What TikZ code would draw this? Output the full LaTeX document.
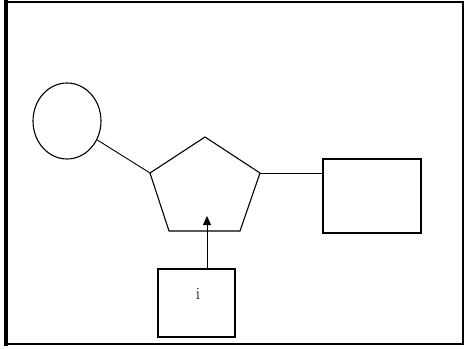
\documentclass[tikz,border=0pt]{standalone}
\usepackage{tikz}
\usetikzlibrary{arrows.meta,positioning,calc,shapes.geometric}

\begin{document}
\begin{tikzpicture}[x=1pt,y=-1pt,line width=1pt,
  blk/.style={draw,line width=1.1pt,inner sep=0pt},
  lnk/.style={draw,line width=0.9pt}]
\useasboundingbox (0,0) rectangle (465,348);
% outer frame
\draw[line width=2pt] (6,1.5) rectangle (463,344);
\draw[line width=4pt] (6,0) -- (6,346);
\node[blk,ellipse,minimum width=68,minimum height=76] (src) at (67,121) {};
% pentagon
\coordinate (pt) at (205,137);
\coordinate (pl) at (150,173);
\coordinate (pbl) at (169,231);
\coordinate (pbr) at (240,231);
\coordinate (pr) at (260,173);
\draw[line width=1.1pt] (pt) -- (pl) -- (pbl) -- (pbr) -- (pr) -- cycle;
\coordinate (tip) at (207,216);
\node[blk,minimum width=98,minimum height=74] (out) at (372,196) {};
\node[blk,minimum width=77,minimum height=68] (in) at (196.5,303) {};
\node at (198,294) {\LARGE i};
\draw[lnk] (src) -- (pl);
\draw[lnk] (pr) -- (pr -| out.west);
\draw[lnk,-{Triangle[length=9pt,width=8pt]}] (tip |- in.north) -- (tip);
\end{tikzpicture}
\end{document}
